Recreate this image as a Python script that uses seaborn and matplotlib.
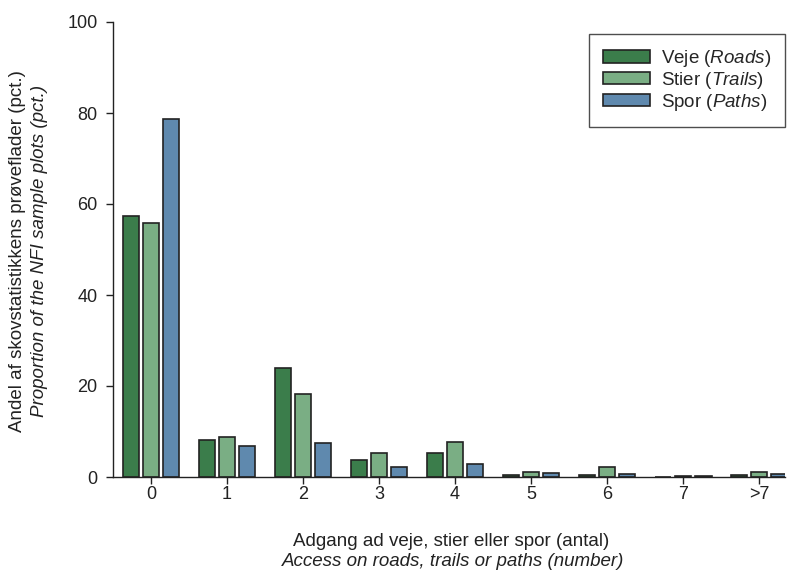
import numpy as np
import pandas as pd
import matplotlib
matplotlib.use("Agg")
import matplotlib.pyplot as plt
import seaborn as sns

categories = ["0", "1", "2", "3", "4", "5", "6", "7", ">7"]
roads = [57.4, 8.1, 24.0, 3.7, 5.2, 0.5, 0.5, 0.0, 0.5]
trails = [55.9, 8.8, 18.3, 5.2, 7.6, 1.1, 2.1, 0.2, 1.1]
paths = [78.7, 6.8, 7.4, 2.2, 2.9, 0.8, 0.6, 0.2, 0.7]
series_names = ["Veje ($\\mathit{Roads}$)", "Stier ($\\mathit{Trails}$)", "Spor ($\\mathit{Paths}$)"]
colors = ["#3b7d4b", "#7aae84", "#5f89ae"]

sns.set_theme(style="ticks")
plt.rcParams['font.family'] = ['Liberation Sans', 'DejaVu Sans']
plt.rcParams['mathtext.fontset'] = 'custom'
plt.rcParams['mathtext.rm'] = 'Liberation Sans'
plt.rcParams['mathtext.it'] = 'Liberation Sans:italic'

df = pd.DataFrame({
    "cat": categories * 3,
    "val": roads + trails + paths,
    "series": [series_names[0]] * 9 + [series_names[1]] * 9 + [series_names[2]] * 9,
})

fig = plt.figure(figsize=(7.93, 5.72), dpi=100)
ax = fig.add_axes([113/793, 1 - 477/572, (785-113)/793, (477-22)/572])

sns.barplot(data=df, x="cat", y="val", hue="series", order=categories,
            hue_order=series_names, palette=colors, width=0.8, gap=0.2,
            edgecolor="#222222", linewidth=1.2, ax=ax, saturation=1)

FS = 13.5
ax.set_xlim(-0.5, 8.34)
ax.set_ylim(0, 100)
ax.set_yticks([0, 20, 40, 60, 80, 100])
ax.tick_params(axis='both', labelsize=13, colors='#222222', length=5, width=1)
ax.tick_params(axis='x', pad=1.5)
ax.tick_params(axis='y', pad=6)
for s in ["top", "right"]:
    ax.spines[s].set_visible(False)
for s in ["left", "bottom"]:
    ax.spines[s].set_color('#222222')
    ax.spines[s].set_linewidth(1)
ax.set_xlabel("")
ax.set_ylabel("")

fig.text(18/793, 1 - 251/572, "Andel af skovstatistikkens prøveflader (pct.)", rotation=90,
         ha='center', va='center', fontsize=FS, color='#222222')
fig.text(40/793, 1 - 251/572, "Proportion of the NFI sample plots (pct.)", rotation=90,
         ha='center', va='center', fontsize=FS, style='italic', color='#222222')
fig.text(451/793, 1 - 541/572, "Adgang ad veje, stier eller spor (antal)",
         ha='center', va='center', fontsize=FS, color='#222222')
fig.text(453/793, 1 - 561/572, "Access on roads, trails or paths (number)",
         ha='center', va='center', fontsize=FS, style='italic', color='#222222')

leg = ax.legend(loc='upper right', bbox_to_anchor=(1.0, 1 - 12/455), fontsize=FS,
                frameon=True, fancybox=False, edgecolor='#222222', handlelength=2.5,
                handleheight=0.65, borderpad=0.75, labelspacing=0.04, handletextpad=0.55,
                borderaxespad=0)
leg.get_frame().set_linewidth(1)
leg.set_title(None)

fig.savefig("out.png", dpi=100)
